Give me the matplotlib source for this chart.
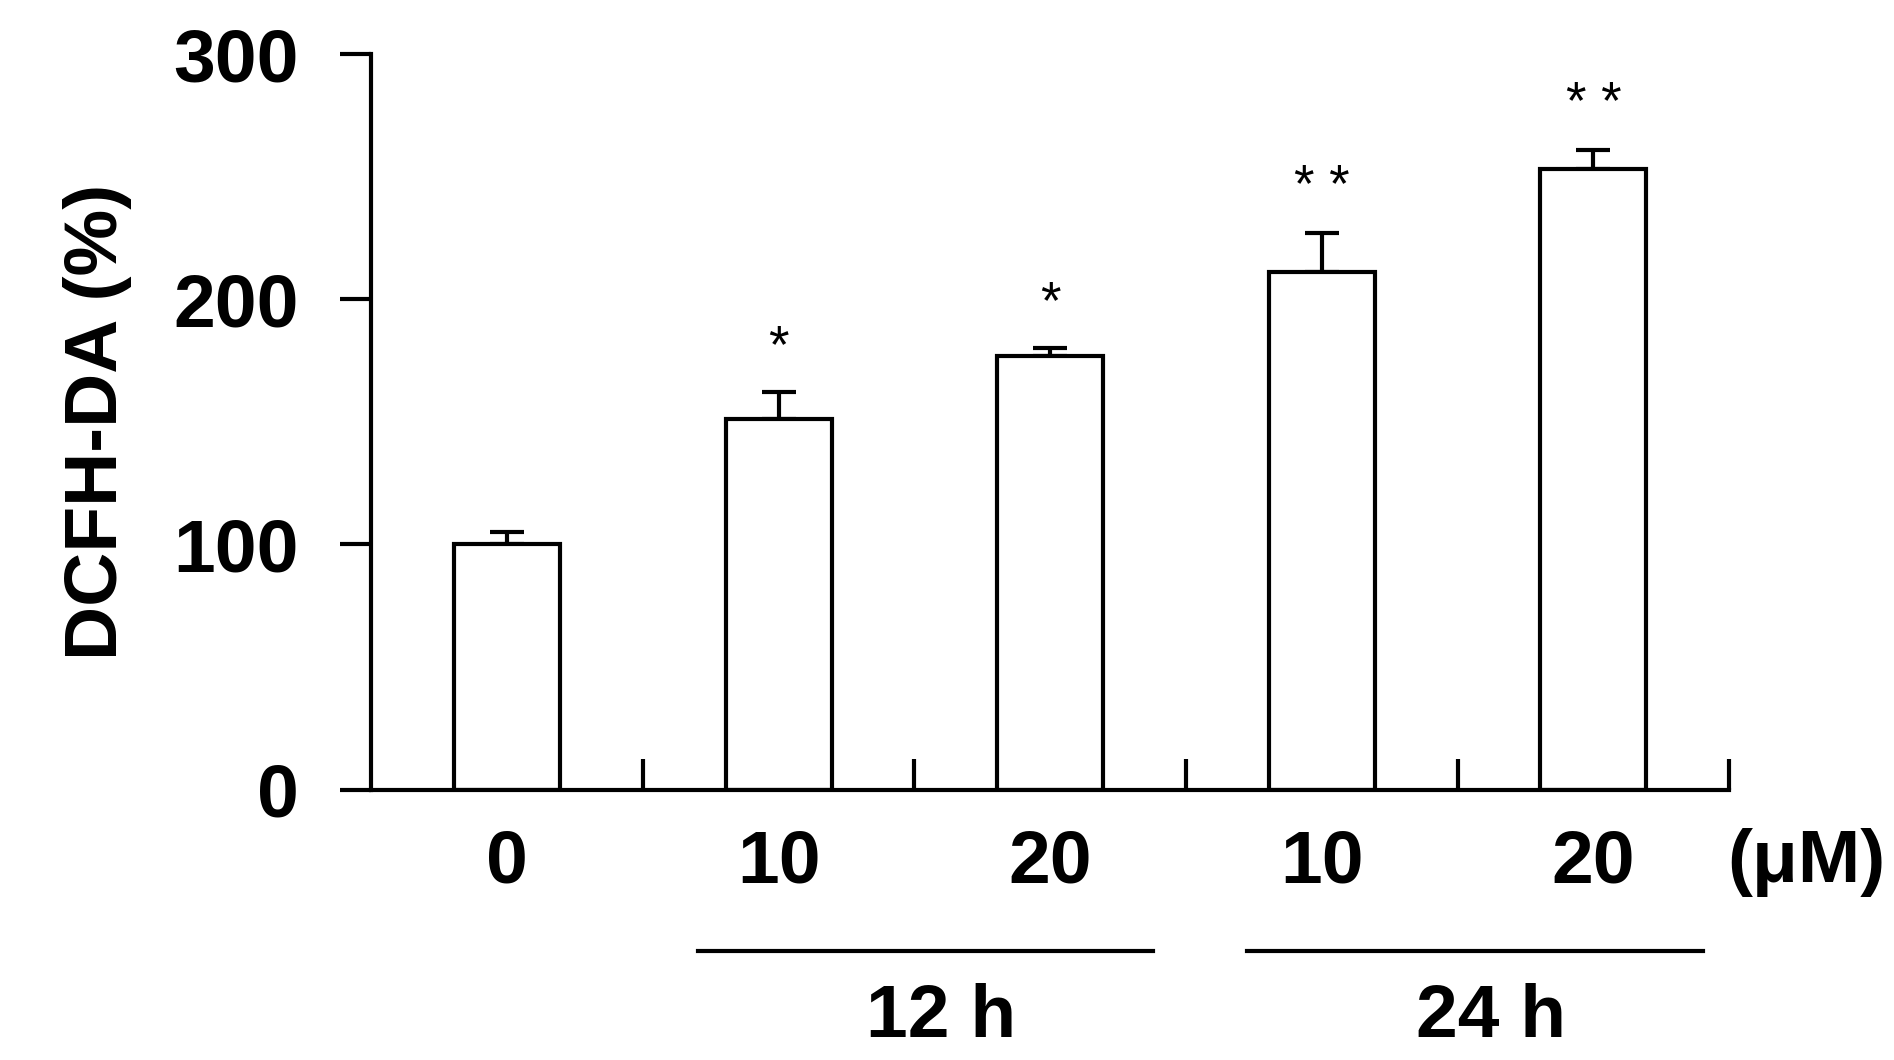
import matplotlib
matplotlib.use("Agg")
import matplotlib.pyplot as plt
from matplotlib.lines import Line2D

plt.rcParams['font.family'] = ['Liberation Sans', 'DejaVu Sans']
labels = ['0', '10', '20', '10', '20']
values = [100, 151, 177, 211, 253]
errors = [5, 11, 3, 16, 8]
stars = ['', '*', '*', '* *', '* *']

W, H = 1894, 1060
FS = 54
fig = plt.figure(figsize=(W/100, H/100), dpi=100)
ax = fig.add_axes([0.196, 0.255, 0.717, 0.694])
x = list(range(len(values)))
ax.bar(x, values, width=0.39, color='white', edgecolor='black', linewidth=3, zorder=2)
ax.errorbar(x, values, yerr=[[0]*5, errors], fmt='none', ecolor='black',
            elinewidth=3, capsize=12, capthick=3, zorder=1)
for xi, v, e, s in zip(x, values, errors, stars):
    ax.text(xi, v+e+8, s, ha='center', va='bottom', fontsize=38)
ax.set_xlim(-0.5, 4.5)
ax.set_ylim(0, 300)
ax.set_yticks([0, 100, 200, 300])
ax.set_xticks(x)
ax.set_xticklabels(labels, fontsize=FS, fontweight='bold')
ax.set_xticks([0.5, 1.5, 2.5, 3.5, 4.5], minor=True)
ax.tick_params(axis='x', which='major', length=0, pad=28)
ax.tick_params(axis='x', which='minor', direction='in', length=22, width=3)
ax.tick_params(axis='y', direction='out', length=22, width=3, labelsize=FS, pad=30)
for t in ax.get_yticklabels():
    t.set_fontweight('bold')
for s in ['top', 'right']:
    ax.spines[s].set_visible(False)
for s in ['left', 'bottom']:
    ax.spines[s].set_linewidth(3)
ax.set_ylabel('DCFH-DA (%)', fontsize=FS, fontweight='bold', labelpad=30)

fig.text(1488/1560, 1-712/875, '(μM)', fontsize=FS, fontweight='bold', ha='center', va='center')
yl = 1-785/875
fig.add_artist(Line2D([575/1560, 950/1560], [yl, yl], color='black', lw=3))
fig.add_artist(Line2D([1027/1560, 1403/1560], [yl, yl], color='black', lw=3))
fig.text(775/1560, 1-840/875, '12 h', fontsize=FS, fontweight='bold', ha='center', va='center')
fig.text(1228/1560, 1-840/875, '24 h', fontsize=FS, fontweight='bold', ha='center', va='center')
fig.savefig('out.png', dpi=100)
